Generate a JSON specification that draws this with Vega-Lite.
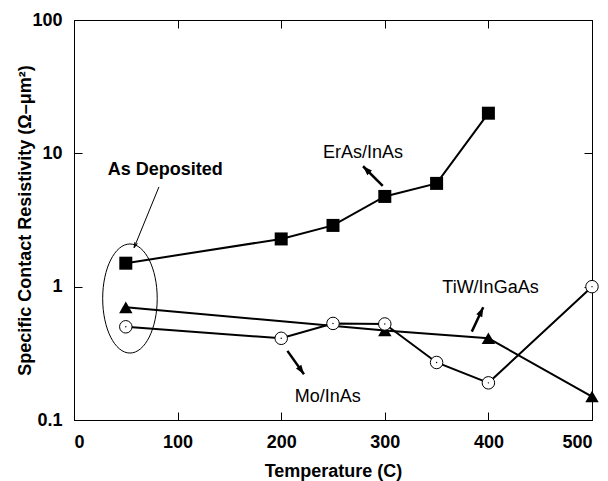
{
  "$schema": "https://vega.github.io/schema/vega-lite/v6.json",
  "width": 518,
  "height": 400,
  "autosize": {"type": "none"},
  "padding": {"left": 74, "top": 20, "right": 16, "bottom": 61},
  "background": "white",
  "config": {
    "view": {"stroke": "black", "strokeWidth": 1},
    "axis": {
      "grid": false,
      "domainColor": "black",
      "tickColor": "black",
      "tickWidth": 1,
      "labelColor": "black",
      "titleColor": "black",
      "labelFont": "Liberation Sans",
      "titleFont": "Liberation Sans",
      "labelFontWeight": "bold",
      "titleFontWeight": "bold",
      "labelFontSize": 18,
      "titleFontSize": 18
    }
  },
  "datasets": {
    "series": [
      {"series": "ErAs/InAs", "temp": 50, "rho": 1.5},
      {"series": "ErAs/InAs", "temp": 200, "rho": 2.28},
      {"series": "ErAs/InAs", "temp": 250, "rho": 2.88},
      {"series": "ErAs/InAs", "temp": 300, "rho": 4.75},
      {"series": "ErAs/InAs", "temp": 350, "rho": 5.95},
      {"series": "ErAs/InAs", "temp": 400, "rho": 20},
      {"series": "TiW/InGaAs", "temp": 50, "rho": 0.7},
      {"series": "TiW/InGaAs", "temp": 300, "rho": 0.47},
      {"series": "TiW/InGaAs", "temp": 400, "rho": 0.41},
      {"series": "TiW/InGaAs", "temp": 500, "rho": 0.15},
      {"series": "Mo/InAs", "temp": 50, "rho": 0.5},
      {"series": "Mo/InAs", "temp": 200, "rho": 0.41},
      {"series": "Mo/InAs", "temp": 250, "rho": 0.53},
      {"series": "Mo/InAs", "temp": 300, "rho": 0.525},
      {"series": "Mo/InAs", "temp": 350, "rho": 0.27},
      {"series": "Mo/InAs", "temp": 400, "rho": 0.19},
      {"series": "Mo/InAs", "temp": 500, "rho": 1.0}
    ],
    "labels": [
      {"label": "As Deposited", "temp": 88, "rho": 7.5},
      {"label": "ErAs/InAs", "temp": 279, "rho": 10},
      {"label": "TiW/InGaAs", "temp": 402, "rho": 0.97},
      {"label": "Mo/InAs", "temp": 245, "rho": 0.15}
    ],
    "arrows": [
      {"name": "As Deposited", "x1": 82, "y1": 5.6, "x2": 58, "y2": 1.96, "angle": 202},
      {"name": "ErAs/InAs", "x1": 298, "y1": 5.7, "x2": 279, "y2": 8.0, "angle": 315},
      {"name": "TiW/InGaAs", "x1": 384, "y1": 0.46, "x2": 395, "y2": 0.7, "angle": 25},
      {"name": "Mo/InAs", "x1": 206, "y1": 0.33, "x2": 222, "y2": 0.22, "angle": 145}
    ],
    "ellipse": [
      {"temp": 54, "rho": 0.815}
    ]
  },
  "layer": [
    {
      "data": {"name": "series"},
      "mark": {"type": "line", "color": "black", "strokeWidth": 2},
      "encoding": {
        "x": {
          "field": "temp", "type": "quantitative",
          "scale": {"domain": [0, 500], "nice": false},
          "axis": {
            "values": [0, 100, 200, 300, 400, 500],
            "tickSize": -8,
            "labelPadding": 21,
            "title": "Temperature (C)",
            "titleX": 259,
            "titleY": 51,
            "titleBaseline": "middle"
          }
        },
        "y": {
          "field": "rho", "type": "quantitative",
          "scale": {"type": "log", "domain": [0.1, 100], "nice": false},
          "axis": {
            "values": [0.1, 1, 10, 100],
            "format": "~g",
            "tickSize": -8,
            "labelPadding": 20,
            "title": "Specific Contact Resistivity (Ω–μm²)",
            "titleX": -49,
            "titleY": 200,
            "titleAngle": -90,
            "titleAlign": "center",
            "titleBaseline": "middle"
          }
        },
        "detail": {"field": "series"},
        "order": {"field": "temp"}
      }
    },
    {
      "data": {"name": "ellipse"},
      "mark": {"type": "point", "shape": "M0,-1A0.5,1,0,1,1,0,1A0.5,1,0,1,1,0,-1Z", "filled": false, "stroke": "black", "strokeWidth": 1, "size": 11900, "opacity": 1},
      "encoding": {
        "x": {
          "field": "temp", "type": "quantitative",
          "axis": {"orient": "top", "values": [0, 100, 200, 300, 400, 500], "tickSize": -8, "labels": false, "title": null}
        },
        "y": {
          "field": "rho", "type": "quantitative",
          "axis": {"orient": "right", "values": [0.1, 1, 10, 100], "tickSize": -8, "labels": false, "title": null}
        }
      }
    },
    {
      "data": {"name": "series"},
      "transform": [{"filter": "datum.series == 'ErAs/InAs'"}],
      "mark": {"type": "point", "shape": "square", "filled": true, "color": "black", "size": 169, "opacity": 1},
      "encoding": {
        "x": {"field": "temp", "type": "quantitative", "axis": null},
        "y": {"field": "rho", "type": "quantitative", "axis": null}
      }
    },
    {
      "data": {"name": "series"},
      "transform": [{"filter": "datum.series == 'TiW/InGaAs'"}],
      "mark": {"type": "point", "shape": "triangle-up", "filled": true, "color": "black", "size": 180, "opacity": 1},
      "encoding": {
        "x": {"field": "temp", "type": "quantitative", "axis": null},
        "y": {"field": "rho", "type": "quantitative", "axis": null}
      }
    },
    {
      "data": {"name": "series"},
      "transform": [{"filter": "datum.series == 'Mo/InAs'"}],
      "mark": {"type": "point", "shape": "circle", "filled": true, "fill": "white", "stroke": "black", "strokeWidth": 1, "size": 156, "opacity": 1},
      "encoding": {
        "x": {"field": "temp", "type": "quantitative", "axis": null},
        "y": {"field": "rho", "type": "quantitative", "axis": null}
      }
    },
    {
      "data": {"name": "series"},
      "transform": [{"filter": "datum.series == 'Mo/InAs'"}],
      "mark": {"type": "point", "shape": "circle", "filled": true, "color": "black", "size": 2, "opacity": 1},
      "encoding": {
        "x": {"field": "temp", "type": "quantitative", "axis": null},
        "y": {"field": "rho", "type": "quantitative", "axis": null}
      }
    },
    {
      "data": {"name": "arrows"},
      "transform": [{"filter": "datum.name == 'As Deposited'"}],
      "mark": {"type": "rule", "color": "black", "strokeWidth": 1},
      "encoding": {
        "x": {"field": "x1", "type": "quantitative", "axis": null},
        "y": {"field": "y1", "type": "quantitative", "axis": null},
        "x2": {"field": "x2"},
        "y2": {"field": "y2"}
      }
    },
    {
      "data": {"name": "arrows"},
      "transform": [{"filter": "datum.name != 'As Deposited'"}],
      "mark": {"type": "rule", "color": "black", "strokeWidth": 2.5},
      "encoding": {
        "x": {"field": "x1", "type": "quantitative", "axis": null},
        "y": {"field": "y1", "type": "quantitative", "axis": null},
        "x2": {"field": "x2"},
        "y2": {"field": "y2"}
      }
    },
    {
      "data": {"name": "arrows"},
      "transform": [{"filter": "datum.name == 'As Deposited'"}],
      "mark": {"type": "point", "shape": "M-0.45,1.8L0,0L0.45,1.8", "filled": false, "stroke": "black", "strokeWidth": 1, "size": 36, "opacity": 1},
      "encoding": {
        "x": {"field": "x2", "type": "quantitative", "axis": null},
        "y": {"field": "y2", "type": "quantitative", "axis": null},
        "angle": {"field": "angle", "type": "quantitative", "scale": null}
      }
    },
    {
      "data": {"name": "arrows"},
      "transform": [{"filter": "datum.name != 'As Deposited'"}],
      "mark": {"type": "point", "shape": "M0,0L0.6,1.7L-0.6,1.7Z", "filled": true, "color": "black", "size": 120, "opacity": 1},
      "encoding": {
        "x": {"field": "x2", "type": "quantitative", "axis": null},
        "y": {"field": "y2", "type": "quantitative", "axis": null},
        "angle": {"field": "angle", "type": "quantitative", "scale": null}
      }
    },
    {
      "data": {"name": "labels"},
      "transform": [{"filter": "datum.label == 'As Deposited'"}],
      "mark": {"type": "text", "font": "Liberation Sans", "fontWeight": "bold", "fontSize": 18, "color": "black", "align": "center", "baseline": "middle"},
      "encoding": {
        "x": {"field": "temp", "type": "quantitative", "axis": null},
        "y": {"field": "rho", "type": "quantitative", "axis": null},
        "text": {"field": "label"}
      }
    },
    {
      "data": {"name": "labels"},
      "transform": [{"filter": "datum.label != 'As Deposited'"}],
      "mark": {"type": "text", "font": "Liberation Sans", "fontSize": 18, "color": "black", "align": "center", "baseline": "middle"},
      "encoding": {
        "x": {"field": "temp", "type": "quantitative", "axis": null},
        "y": {"field": "rho", "type": "quantitative", "axis": null},
        "text": {"field": "label"}
      }
    }
  ],
  "resolve": {"axis": {"x": "independent", "y": "independent"}}
}
